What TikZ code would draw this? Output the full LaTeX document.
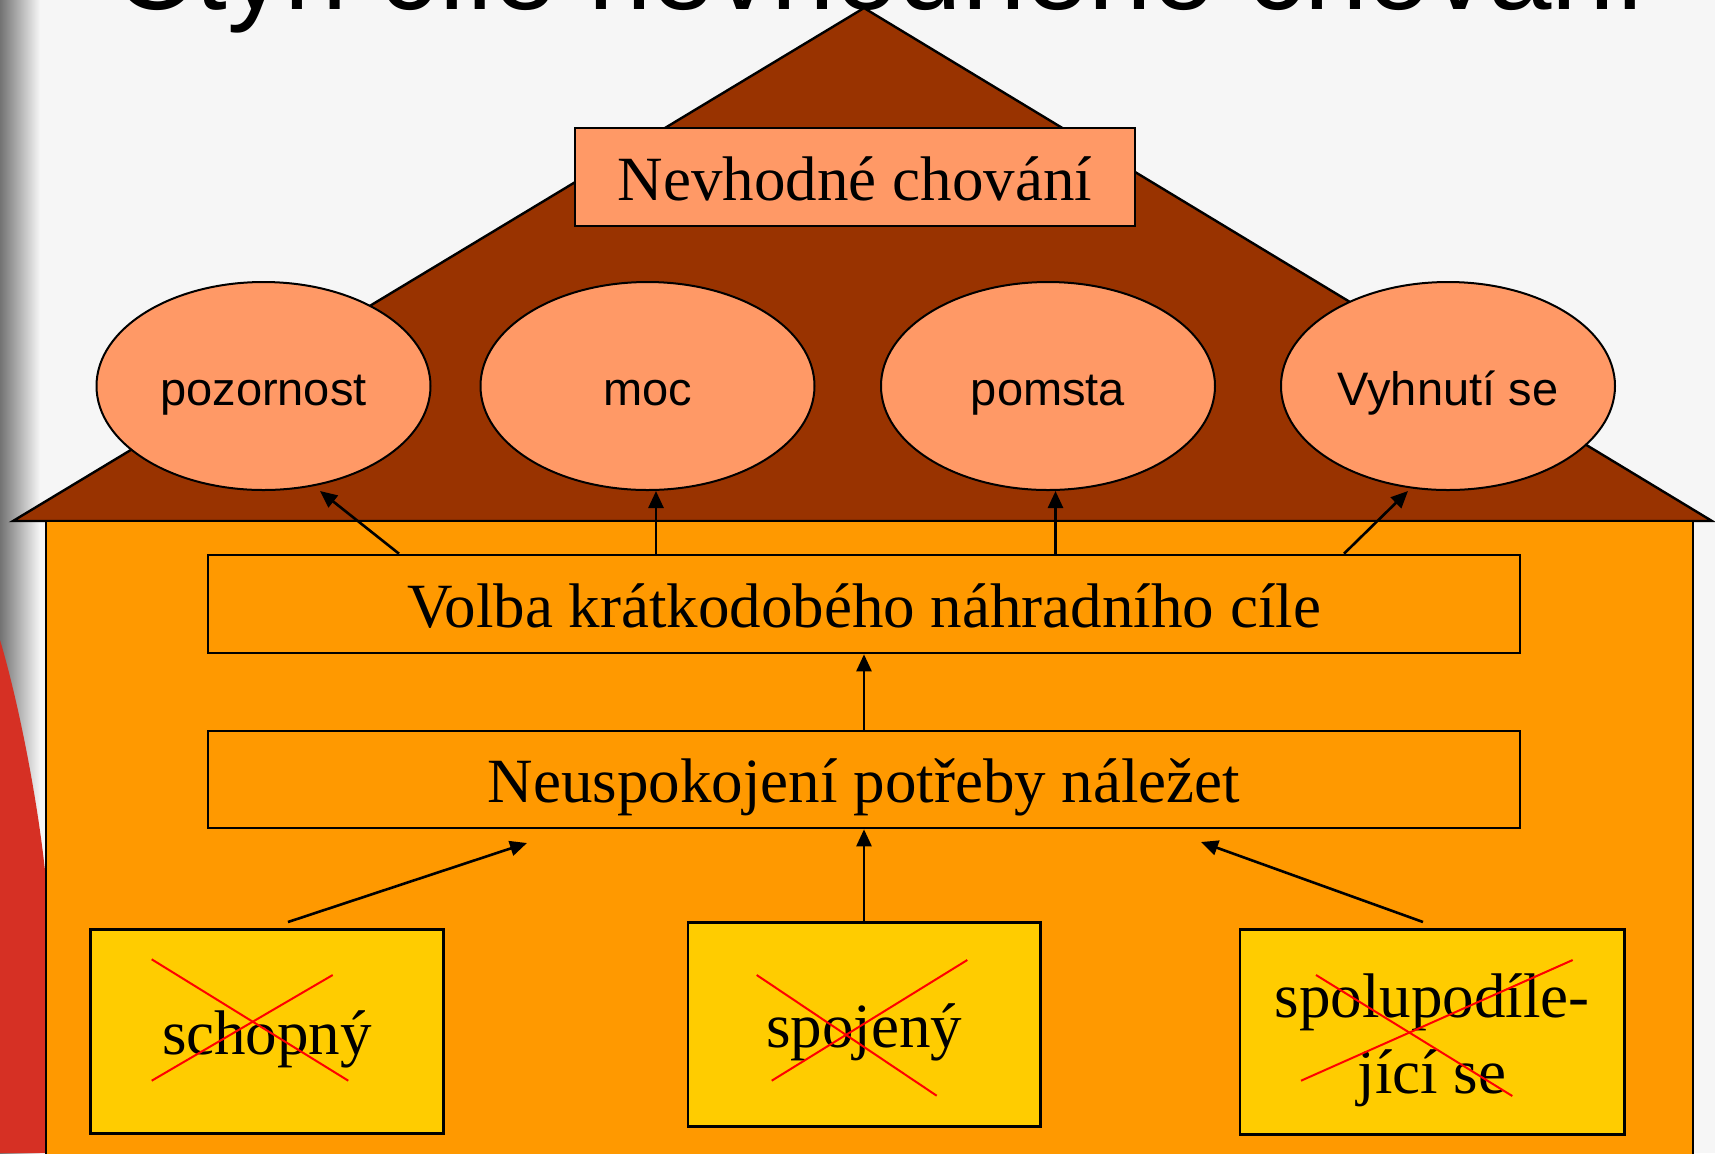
\documentclass[tikz,border=0pt]{standalone}
\usepackage{fontspec}
\setmainfont{Liberation Serif}
\newfontfamily\arialf{Liberation Sans}
\usetikzlibrary{arrows.meta,calc,shapes.geometric}
\definecolor{bgc}{RGB}{246,246,246}
\definecolor{roofc}{RGB}{153,51,0}
\definecolor{wallc}{RGB}{255,153,0}
\definecolor{salmonc}{RGB}{255,153,102}
\definecolor{yelc}{RGB}{255,204,0}
\definecolor{curtainc}{RGB}{214,48,36}
\definecolor{crossc}{RGB}{255,0,0}
\begin{document}
\begin{tikzpicture}[x=0.5pt,y=-0.5pt,
  serifbig/.style={font=\fontsize{31.5}{38}\selectfont},
  sansmid/.style={font=\arialf\fontsize{23.5}{28}\selectfont},
  plainbox/.style={draw=black, line width=1.3pt, inner sep=0pt, serifbig,
    text height=26pt, text depth=3pt},
  topbox/.style={plainbox, fill=salmonc, minimum width=280pt, minimum height=49pt},
  goal/.style={ellipse, draw=black, line width=1pt, fill=salmonc, inner sep=0pt,
    minimum width=167pt, minimum height=104pt, sansmid, text height=21pt, text depth=2pt},
  widebox/.style={plainbox, minimum width=656pt, minimum height=49pt},
  needbox/.style={plainbox, fill=yelc, minimum height=102pt},
  arr/.style={line width=1.3pt, -{Triangle[length=8.5pt,width=7.5pt]}},
  cross/.style={crossc, line width=1pt}
]
\useasboundingbox (0,0) rectangle (1715,1153);
\clip (0,0) rectangle (1715,1153);
% background
\fill[bgc] (0,0) rectangle (1715,1153);
\shade[left color=black!55, right color=bgc] (0,0) rectangle (40,1153);
\fill[curtainc] (0,640) .. controls (18,700) and (38,800) .. (46,880) -- (46,1153) -- (0,1153) -- cycle;
% title (cut off at the top)
\node[anchor=base, font=\arialf\fontsize{57}{60}\selectfont, inner sep=0pt] (title) at (880,9) {Čtyři cíle nevhodného chování};
% house
\draw[fill=roofc, line width=1.2pt, line join=miter] (13,521) -- (864,8) -- (1712,521) -- cycle;
\draw[fill=wallc, line width=1.3pt] (46,1165) -- (46,521) -- (1693,521) -- (1693,1165);
% nodes
\node[topbox] (top) at (855,177) {Nevhodné chování};
\node[goal] (poz) at (263.5,386) {pozornost};
\node[goal] (moc) at (647.5,386) {moc};
\node[goal] (pom) at (1048,386) {pomsta};
\node[goal] (vyh) at (1448,386) {Vyhnutí se};
\node[widebox] (volba) at (864,604) {Volba krátkodobého náhradního cíle};
\node[widebox, minimum height=48.5pt] (neusp) at (864,779.5) {Neuspokojení potřeby náležet};
\node[needbox, minimum width=176.3pt] (b1) at (267,1031.3) {schopný};
\node[needbox, minimum width=176.2pt] (b2) at (864,1024.7) {spojený};
\node[needbox, minimum width=192.2pt, minimum height=102.5pt] (b3) at (1432.2,1031.8) {};
\node[align=center, inner sep=0pt, serifbig] (b3t) at (1432,1040) {spolupodíle-\\jící se};
% crosses
\draw[cross] (151.7,959.3) -- (348.3,1080.7);
\draw[cross] (151.7,1080.7) -- (332.7,975);
\draw[cross] (756.7,975) -- (936.7,1095.7);
\draw[cross] (771.7,1080.7) -- (967.3,960);
\draw[cross] (1316,975) -- (1512.3,1096);
\draw[cross] (1301,1080.7) -- (1572.7,960);
% arrows
\coordinate (tipL) at (527,843);
\coordinate (tipR) at (1201,842);
\draw[arr] (volba.north -| 399,0) -- (poz.south -| 320,0);
\draw[arr] (volba.north -| 656,0) -- (moc.south -| 656,0);
\draw[arr] (volba.north -| 1055.5,0) -- (pom.south -| 1055.5,0);
\draw[arr] (volba.north -| 1344,0) -- (vyh.south -| 1408,0);
\draw[arr] (neusp.north) -- (volba.south);
\draw[arr] (b2.north) -- (neusp.south);
\draw[arr] ($(b1.north -| 288,0)+(0,-6)$) -- (tipL);
\draw[arr] ($(b3.north -| 1423,0)+(0,-6)$) -- (tipR);
\end{tikzpicture}
\end{document}
